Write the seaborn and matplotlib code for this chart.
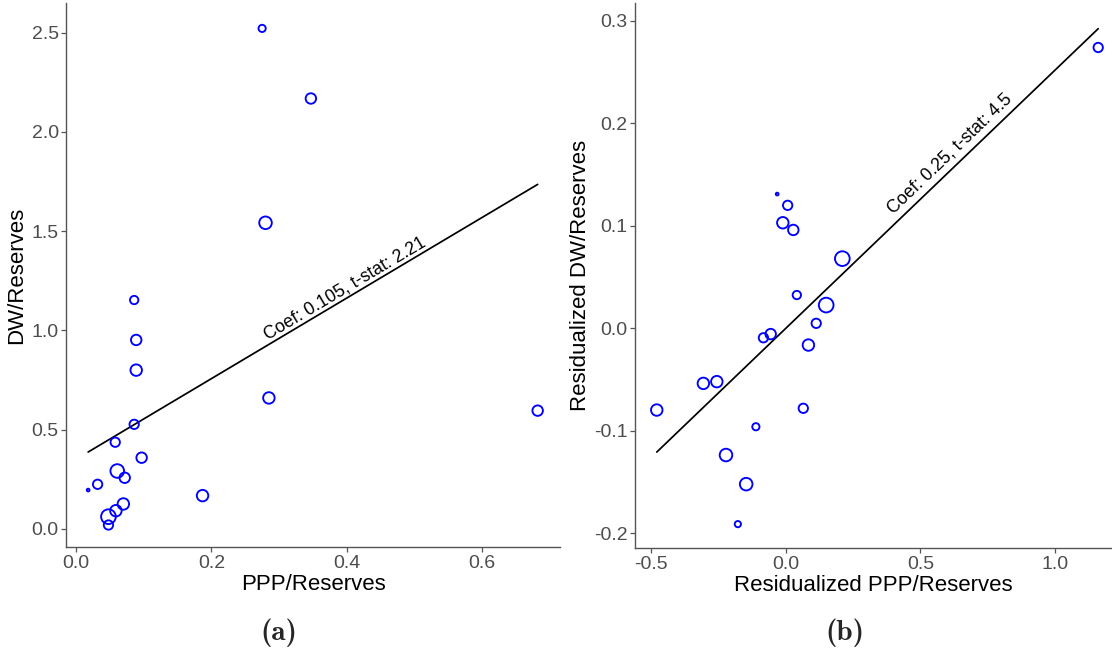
import os
import numpy as np
import pandas as pd
import matplotlib
matplotlib.use("Agg")
import matplotlib.pyplot as plt
from matplotlib.ticker import FormatStrFormatter
from matplotlib.font_manager import FontProperties
import seaborn as sns

# --------------------------------------------------
# data
# --------------------------------------------------
# (a) raw ratios
left_x = [0.018, 0.032, 0.058, 0.086, 0.097, 0.061, 0.072, 0.070, 0.059, 0.048,
          0.048, 0.187, 0.275, 0.347, 0.280, 0.086, 0.089, 0.089, 0.285, 0.682]
left_y = [0.196, 0.225, 0.437, 0.527, 0.359, 0.292, 0.258, 0.126, 0.092, 0.062,
          0.020, 0.168, 2.521, 2.168, 1.542, 1.153, 0.952, 0.800, 0.660, 0.596]
left_w = [2, 20, 20, 20, 25, 42, 25, 30, 30, 49,
          20, 30, 12, 25, 36, 16, 25, 30, 30, 25]
left_fit = (0.351, 2.03)          # intercept, slope of drawn line
left_label = "Coef: 0.105, t-stat: 2.21"

# (b) residualized
right_x = [-0.032, 0.007, -0.011, 0.028, 0.210, 0.041, 0.150, 0.113, -0.056, -0.083,
           0.084, -0.306, -0.256, -0.479, 0.065, -0.111, -0.222, -0.147, -0.178, 1.160]
right_y = [0.131, 0.120, 0.103, 0.096, 0.068, 0.0325, 0.0227, 0.0049, -0.0056, -0.0092,
           -0.0163, -0.0537, -0.052, -0.0797, -0.078, -0.096, -0.1236, -0.152, -0.191, 0.274]
right_w = [2, 20, 30, 25, 49, 16, 49, 20, 25, 20,
           30, 30, 30, 30, 20, 12, 36, 36, 9, 20]
right_fit = (0.0, 0.252)
right_label = "Coef: 0.25, t-stat: 4.5"

left_xticks = [0.0, 0.2, 0.4, 0.6]
left_yticks = [0.0, 0.5, 1.0, 1.5, 2.0, 2.5]
right_xticks = [-0.5, 0.0, 0.5, 1.0]
right_yticks = [-0.2, -0.1, 0.0, 0.1, 0.2, 0.3]

# --------------------------------------------------
# style
# --------------------------------------------------
sns.set_theme(style="ticks")
plt.rcParams["font.family"] = ["Liberation Sans", "DejaVu Sans"]
plt.rcParams["axes.unicode_minus"] = False

AXIS_GREY = "#555555"
TICK_GREY = "#4d4d4d"

fig = plt.figure(figsize=(11.12, 6.51), dpi=100)
ax_l = fig.add_axes([0.0596, 0.1598, 0.444, 0.8356])
ax_r = fig.add_axes([0.571, 0.1582, 0.4287, 0.8372])


def panel(ax, xs, ys, ws, fit, label, xlim, ylim, xticks, yticks,
          xlabel, ylabel, text_xy, ypad):
    df = pd.DataFrame({"x": xs, "y": ys, "w": ws})
    sns.scatterplot(data=df, x="x", y="y", size="w", sizes=(4, 112),
                    size_norm=(2, 49), legend=False, marker="o",
                    facecolors="none", edgecolor="blue", linewidth=1.35,
                    ax=ax, zorder=3)

    b0, b1 = fit
    line_x = np.array([min(xs), max(xs)])
    sns.lineplot(x=line_x, y=b0 + b1 * line_x, color="black",
                 linewidth=1.25, ax=ax, zorder=2)

    ax.set_xlim(*xlim)
    ax.set_ylim(*ylim)
    ax.set_xticks(xticks)
    ax.set_yticks(yticks)
    ax.xaxis.set_major_formatter(FormatStrFormatter("%.1f"))
    ax.yaxis.set_major_formatter(FormatStrFormatter("%.1f"))

    sns.despine(ax=ax)
    for side in ["left", "bottom"]:
        ax.spines[side].set_color(AXIS_GREY)
        ax.spines[side].set_linewidth(1.0)
    ax.tick_params(axis="both", colors=AXIS_GREY, length=3.5, width=0.9,
                   labelsize=14, labelcolor=TICK_GREY, pad=2)

    ax.set_xlabel(xlabel, fontsize=16, color="black", labelpad=2)
    ax.set_ylabel(ylabel, fontsize=16, color="black", labelpad=ypad)

    # rotate the label along the fitted line (in screen space)
    p0 = ax.transData.transform((line_x[0], b0 + b1 * line_x[0]))
    p1 = ax.transData.transform((line_x[1], b0 + b1 * line_x[1]))
    angle = np.degrees(np.arctan2(p1[1] - p0[1], p1[0] - p0[0]))
    ax.text(text_xy[0], text_xy[1], label, rotation=angle,
            rotation_mode="anchor", ha="center", va="center",
            fontsize=12.8, color="black")


panel(ax_l, left_x, left_y, left_w, left_fit, left_label,
      (-0.0143, 0.715), (-0.0906, 2.649), left_xticks, left_yticks,
      "PPP/Reserves", "DW/Reserves", (0.397, 1.208), 3)

panel(ax_r, right_x, right_y, right_w, right_fit, right_label,
      (-0.56, 1.21), (-0.2143, 0.3174), right_xticks, right_yticks,
      "Residualized PPP/Reserves", "Residualized DW/Reserves", (0.610, 0.1705), 2)

# bold Computer Modern captions
cmb_path = os.path.join(matplotlib.get_data_path(), "fonts", "ttf", "cmb10.ttf")
cap_font = FontProperties(fname=cmb_path, size=21)
fig.text(279 / 1112, 1 - 633 / 651, "(a)", fontproperties=cap_font,
         ha="center", va="center")
fig.text(845 / 1112, 1 - 633 / 651, "(b)", fontproperties=cap_font,
         ha="center", va="center")

fig.savefig("out.png", dpi=100)
